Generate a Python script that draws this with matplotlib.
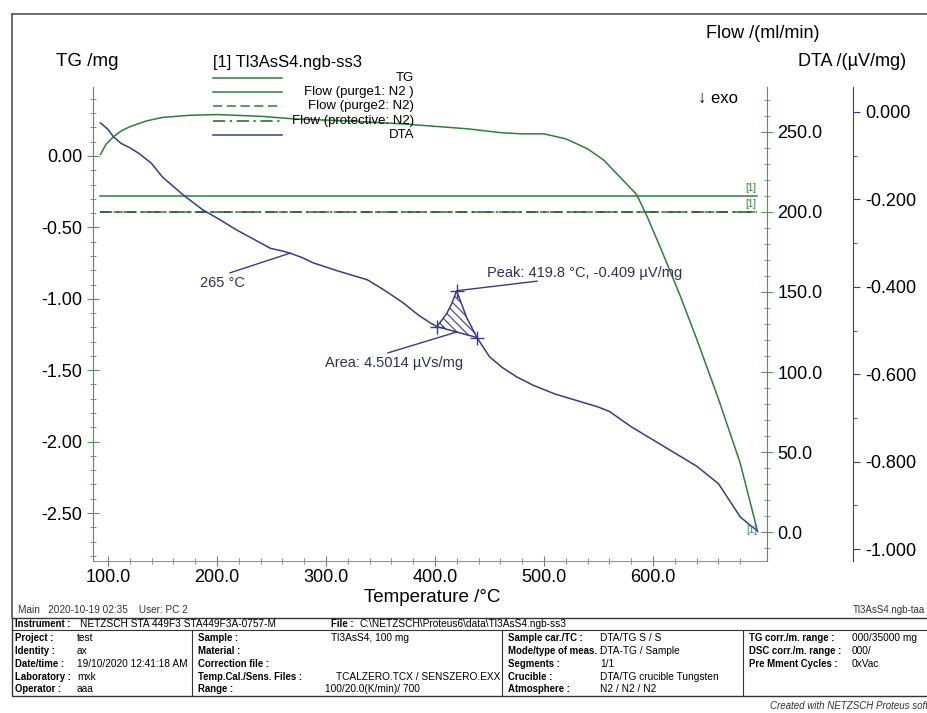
import matplotlib
matplotlib.use("Agg")
import matplotlib.pyplot as plt
from matplotlib.lines import Line2D
from matplotlib.patches import Rectangle
from matplotlib.ticker import MultipleLocator, FixedLocator, FormatStrFormatter
import numpy as np

plt.rcParams['font.family'] = ['Liberation Sans', 'DejaVu Sans']
plt.rcParams['hatch.linewidth'] = 0.8

# TG curve (mg)
tg_temp = [93, 98, 105, 112, 120, 135, 150, 175, 200, 240, 270, 320, 370, 430, 462,
           480, 500, 520, 540, 555, 570, 585, 595, 610, 625, 640, 660, 680, 696]
tg_mass = [0.01, 0.08, 0.135, 0.175, 0.205, 0.245, 0.27, 0.285, 0.29, 0.278, 0.26, 0.245,
           0.225, 0.19, 0.162, 0.155, 0.155, 0.12, 0.05, -0.03, -0.15, -0.27, -0.43,
           -0.70, -0.98, -1.28, -1.70, -2.15, -2.63]

# DTA curve (uV/mg)
dta_temp = [93, 100, 105, 112, 120, 129, 140, 150, 169, 187, 203, 218, 235, 249, 260, 267,
            278, 288, 310, 338, 355, 371, 385, 396, 401.8, 411, 415.6, 419.8, 429, 438.5,
            450, 462, 475, 490, 510, 530, 550, 560, 580, 600, 620, 640, 660, 680, 689, 695.4]
dta_sig = [-0.025, -0.04, -0.057, -0.072, -0.082, -0.096, -0.118, -0.149, -0.19, -0.224,
           -0.247, -0.27, -0.293, -0.312, -0.318, -0.323, -0.333, -0.345, -0.363, -0.384,
           -0.41, -0.437, -0.465, -0.483, -0.491, -0.46, -0.437, -0.409, -0.47, -0.516,
           -0.56, -0.585, -0.606, -0.625, -0.645, -0.66, -0.675, -0.685, -0.72, -0.75,
           -0.78, -0.81, -0.85, -0.926, -0.945, -0.957]

# gas flows (ml/min), constant over the run
flow_temp = [93, 695]
flow_purge1 = [210, 210]
flow_purge2 = [200, 200]
flow_protective = [200, 200]

# evaluated DTA effect
onset_t, onset_d = 401.8, -0.491
peak_t, peak_d = 419.8, -0.409
end_t, end_d = 438.5, -0.516
area_value = 4.5014
mark_t = 267
mark_label = "265 °C"

temp_ticks = [100, 200, 300, 400, 500, 600]

GREEN = "#2f7d3a"
AXGREEN = "#5b8f5b"
NAVY = "#3a3a8c"
TXT = "#30305a"

W, H = 928, 713
fig = plt.figure(figsize=(W / 100, H / 100), dpi=100)


def fx(x):
    return x / W


def fy(y):
    return 1 - y / H


ax = fig.add_axes([fx(93), fy(561), fx(767) - fx(93), fy(87) - fy(561)])
ax_flow = ax.twinx()
ax_dta = ax.twinx()
# spine offset is in points: 86 px at 100 dpi
ax_dta.spines['right'].set_position(('outward', 86 * 72 / 100))

ax.set_xlim(86.2, 704.6)
ax.set_ylim(-2.836, 0.483)
ax_flow.set_ylim(-18.1, 278.1)
ax_dta.set_ylim(-1.027, 0.057)

for a in (ax, ax_flow, ax_dta):
    a.spines['top'].set_visible(False)
ax.spines['right'].set_visible(False)
ax_flow.spines['left'].set_visible(False)
ax_dta.spines['left'].set_visible(False)
ax_flow.spines['bottom'].set_visible(False)
ax_dta.spines['bottom'].set_visible(False)
ax.spines['left'].set_color(AXGREEN)
ax.spines['bottom'].set_color("#8a9a8a")
ax_flow.spines['right'].set_color(AXGREEN)
ax_dta.spines['right'].set_color(NAVY)

# curves
ax.plot(tg_temp, tg_mass, color=GREEN, lw=1.1)
ax_flow.plot(flow_temp, flow_purge1, color=GREEN, lw=1.1)
ax_flow.plot(flow_temp, flow_purge2, color=GREEN, lw=1.1, ls=(0, (6, 3)))
ax_flow.plot(flow_temp, flow_protective, color="#2a5a2a", lw=1.1, ls=(0, (8, 3, 1.5, 3)))
ax_dta.plot(dta_temp, dta_sig, color=NAVY, lw=1.1)

# peak area hatching between curve and baseline
t_arr = np.array(dta_temp)
d_arr = np.array(dta_sig)
sel = (t_arr >= onset_t) & (t_arr <= end_t)
ts = t_arr[sel]
base = onset_d + (ts - onset_t) * (end_d - onset_d) / (end_t - onset_t)
ax_dta.fill_between(ts, d_arr[sel], base, facecolor="none", edgecolor=NAVY,
                    hatch="\\\\\\\\", lw=0)
ax_dta.plot([onset_t, end_t], [onset_d, end_d], color=NAVY, lw=1.1)
ax_dta.plot([onset_t, peak_t, end_t], [onset_d, peak_d, end_d], ls="none",
            marker="+", ms=10, mew=1.0, color=NAVY)

# annotations
ax_dta.plot([211.9, mark_t], [-0.368, -0.323], color=NAVY, lw=1.0)
ax_dta.text(204.6, -0.391, mark_label, color=TXT, fontsize=10.5, ha="center", va="center")
ax_dta.plot([peak_t, 493.6], [peak_d, -0.387], color=NAVY, lw=1.0)
ax_dta.text(447.7, -0.368, f"Peak: {peak_t} °C, {peak_d} µV/mg", color=TXT,
            fontsize=10.5, ha="left", va="center")
ax_dta.plot([356.9, 420.2], [-0.551, -0.503], color=NAVY, lw=1.0)
ax_dta.text(299, -0.574, f"Area: {area_value} µVs/mg", color=TXT, fontsize=10.5,
            ha="left", va="center")

# curve end tags
for yv in (flow_purge1[-1], flow_purge2[-1]):
    ax_flow.text(flow_temp[-1], yv + 2, "[1]", fontsize=7, color=GREEN, ha="right", va="bottom")
ax_dta.text(dta_temp[-1], dta_sig[-1], "[1]", fontsize=7, color="#3a7a8a", ha="right", va="center")

# ticks
ax.xaxis.set_major_locator(FixedLocator(temp_ticks))
ax.xaxis.set_minor_locator(FixedLocator(np.arange(100, 700, 20)))
ax.xaxis.set_major_formatter(FormatStrFormatter("%.1f"))
ax.yaxis.set_major_locator(MultipleLocator(0.5))
ax.yaxis.set_minor_locator(MultipleLocator(0.1))
ax.yaxis.set_major_formatter(FormatStrFormatter("%.2f"))
ax_flow.yaxis.set_major_locator(MultipleLocator(50))
ax_flow.yaxis.set_minor_locator(MultipleLocator(10))
ax_flow.yaxis.set_major_formatter(FormatStrFormatter("%.1f"))
ax_dta.yaxis.set_major_locator(MultipleLocator(0.2))
ax_dta.yaxis.set_minor_locator(MultipleLocator(0.1))
ax_dta.yaxis.set_major_formatter(FormatStrFormatter("%.3f"))

ax.tick_params(axis="x", which="both", direction="inout", colors="#777777", labelcolor="black",
               labelsize=13, pad=2)
ax.tick_params(axis="x", which="major", length=7)
ax.tick_params(axis="x", which="minor", length=4)
ax.tick_params(axis="y", which="both", direction="inout", colors=AXGREEN, labelcolor="black",
               labelsize=13)
ax.tick_params(axis="y", which="major", length=8)
ax.tick_params(axis="y", which="minor", length=4)
ax_flow.tick_params(axis="y", which="both", direction="inout", colors=AXGREEN,
                    labelcolor="black", labelsize=13)
ax_flow.tick_params(axis="y", which="major", length=8)
ax_flow.tick_params(axis="y", which="minor", length=4)
ax_dta.tick_params(axis="y", which="both", direction="out", colors=NAVY,
                   labelcolor="black", labelsize=13)
ax_dta.tick_params(axis="y", which="major", length=5)
ax_dta.tick_params(axis="y", which="minor", length=3)

# axis titles
fig.text(fx(432), fy(598), "Temperature /°C", fontsize=13.5, ha="center", va="center")
fig.text(fx(87), fy(62), "TG /mg", fontsize=13.5, ha="center", va="center")
fig.text(fx(763), fy(33), "Flow /(ml/min)", fontsize=13, ha="center", va="center")
fig.text(fx(852), fy(62), "DTA /(µV/mg)", fontsize=13, ha="center", va="center")
fig.text(fx(698), fy(98), "↓ exo", fontsize=12, ha="left", va="center")

# legend block
fig.text(fx(213), fy(63), "[1] Tl3AsS4.ngb-ss3", fontsize=12, ha="left", va="center")
legend_rows = [
    ("TG", GREEN, "-"),
    ("Flow (purge1: N2 )", GREEN, "-"),
    ("Flow (purge2: N2)", GREEN, (0, (6, 3))),
    ("Flow (protective: N2)", "#2a5a2a", (0, (8, 3, 1.5, 3))),
    ("DTA", NAVY, "-"),
]
for i, (name, col, ls) in enumerate(legend_rows):
    yy = 78 + i * 14.2
    fig.add_artist(Line2D([fx(213), fx(282)], [fy(yy), fy(yy)], color=col, lw=1.1, ls=ls))
    fig.text(fx(414), fy(yy), name, fontsize=9.5, ha="right", va="center")

# page frame
fig.add_artist(Line2D([fx(12), fx(928)], [fy(14), fy(14)], color="#555555", lw=1.2))
fig.add_artist(Line2D([fx(12), fx(12)], [fy(14), fy(618)], color="#555555", lw=1.2))

fig.text(fx(18), fy(610), "Main   2020-10-19 02:35    User: PC 2", fontsize=7.2,
         ha="left", va="center", color="#333333")
fig.text(fx(925), fy(610), "Tl3AsS4.ngb-taa", fontsize=7, ha="right", va="center",
         color="#333333")

# info table
tbl_top, tbl_line, tbl_bot = 618, 630, 696
col_x = [12, 192, 502, 743, 928]
fs = 7.3
fs_lab = 6.9
fig.add_artist(Rectangle((fx(12), fy(tbl_bot)), fx(928) - fx(12), fy(tbl_top) - fy(tbl_bot),
                         fill=False, ec="#333333", lw=1.0))
fig.add_artist(Line2D([fx(12), fx(928)], [fy(tbl_line), fy(tbl_line)], color="#333333", lw=0.8))
for cx in col_x[1:-1]:
    fig.add_artist(Line2D([fx(cx), fx(cx)], [fy(tbl_line), fy(tbl_bot)], color="#333333", lw=0.8))

fig.text(fx(15), fy(624), "Instrument :", fontsize=fs_lab, weight="bold", ha="left", va="center")
fig.text(fx(80), fy(624), "NETZSCH STA 449F3 STA449F3A-0757-M", fontsize=fs, ha="left", va="center")
fig.text(fx(331), fy(624), "File :", fontsize=fs_lab, weight="bold", ha="left", va="center")
fig.text(fx(360), fy(624), "C:\\NETZSCH\\Proteus6\\data\\Tl3AsS4.ngb-ss3", fontsize=fs,
         ha="left", va="center")

row_y = [638, 651, 664, 677, 689]
table_cols = [
    (15, [77] * 5, ["Project :", "Identity :", "Date/time :", "Laboratory :", "Operator :"],
     ["test", "ax", "19/10/2020 12:41:18 AM", "mxk", "aaa"]),
    (198, [331, 331, 331, 336, 325],
     ["Sample :", "Material :", "Correction file :", "Temp.Cal./Sens. Files :", "Range :"],
     ["Tl3AsS4, 100 mg", "", "", "TCALZERO.TCX / SENSZERO.EXX", "100/20.0(K/min)/ 700"]),
    (508, [600] * 5,
     ["Sample car./TC :", "Mode/type of meas. :", "Segments :", "Crucible :", "Atmosphere :"],
     ["DTA/TG S / S", "DTA-TG / Sample", "1/1", "DTA/TG crucible Tungsten", "N2 / N2 / N2"]),
    (749, [852] * 5, ["TG corr./m. range :", "DSC corr./m. range :", "Pre Mment Cycles :", "", ""],
     ["000/35000 mg", "000/", "0xVac", "", ""]),
]
for lx, vxs, labels, values in table_cols:
    for yy, vx, lab, val in zip(row_y, vxs, labels, values):
        if lab:
            fig.text(fx(lx), fy(yy), lab, fontsize=fs_lab, weight="bold", ha="left", va="center")
        if val:
            fig.text(fx(vx), fy(yy), val, fontsize=fs, ha="left", va="center")

fig.text(fx(770), fy(706), "Created with NETZSCH Proteus software", fontsize=7,
         style="italic", ha="left", va="center", color="#333333")

fig.savefig("out.png", dpi=100)
